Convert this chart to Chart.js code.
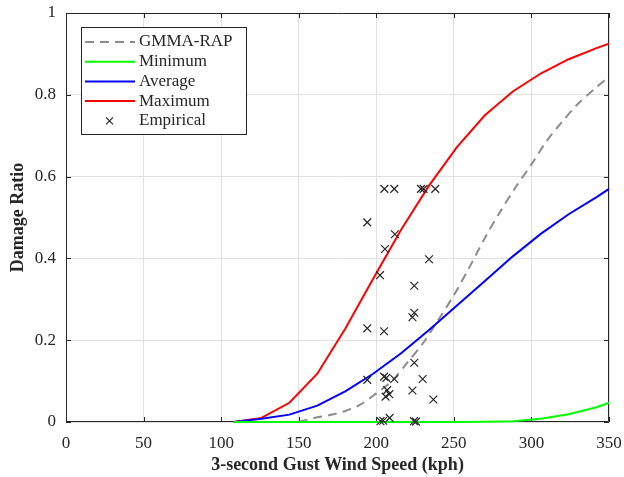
<!DOCTYPE html>
<html>
<head>
<meta charset="utf-8">
<script src="https://cdn.jsdelivr.net/npm/chart.js@4.4.1/dist/chart.umd.min.js"></script>
<style>
  html, body { margin: 0; padding: 0; background: #fff; }
  #wrap { width: 624px; height: 477px; }
</style>
</head>
<body>
<div id="wrap"><canvas id="damageChart"></canvas></div>
<script>
// Fragility curves
const curveSpeed = [108, 126, 144, 162, 180, 198, 216, 234, 252, 270, 288, 306, 324, 342, 350];
const minimumRatio = [0, 0, 0, 0, 0, 0, 0, 0, 0, 0.0005, 0.002, 0.008, 0.019, 0.036, 0.047];
const averageRatio = [0, 0.008, 0.018, 0.04, 0.075, 0.118, 0.168, 0.225, 0.285, 0.345, 0.405, 0.46, 0.508, 0.55, 0.57];
const maximumRatio = [0, 0.01, 0.047, 0.118, 0.228, 0.35, 0.47, 0.578, 0.672, 0.75, 0.808, 0.852, 0.887, 0.914, 0.925];

const gmmaSpeed = [150, 160, 170, 180, 190, 200, 210, 220, 230, 240, 250, 260, 270, 280, 290, 300, 310, 320, 330, 340, 350];
const gmmaRatio = [0, 0.01, 0.017, 0.027, 0.043, 0.07, 0.1, 0.145, 0.192, 0.25, 0.31, 0.378, 0.45, 0.515, 0.575, 0.63, 0.688, 0.735, 0.778, 0.812, 0.845];

// Empirical observations
const empiricalSpeed = [205.2, 211.6, 228.8, 230.5, 238, 194.2, 212, 205.6, 234, 202.4, 224.5,
  224.5, 223.3, 194.2, 205, 224.5, 194.2, 205, 206.5, 211.6, 229.9,
  223.3, 207, 206, 208.4, 236.8, 202.7, 204.5, 208.6, 224.3, 225.6];
const empiricalRatio = [0.57, 0.57, 0.57, 0.57, 0.57, 0.488, 0.459, 0.423, 0.398, 0.359, 0.333,
  0.267, 0.256, 0.229, 0.222, 0.145, 0.103, 0.111, 0.108, 0.105, 0.105,
  0.077, 0.078, 0.062, 0.068, 0.055, 0.002, 0.003, 0.01, 0.002, 0.001];

const xTicks = [0, 50, 100, 150, 200, 250, 300, 350];
const yTicks = [0, 0.2, 0.4, 0.6, 0.8, 1];

const toPoints = (xs, ys) => xs.map((x, i) => ({ x: x, y: ys[i] }));

const serif = 'Liberation Serif';
const axisColor = '#262626';

// Axes box with inward tick marks like MATLAB (drawn under the curves)
const axesBox = {
  id: 'axesBox',
  beforeDatasetsDraw(chart) {
    const { ctx, chartArea: a, scales } = chart;
    ctx.save();
    ctx.strokeStyle = axisColor;
    ctx.lineWidth = 1;
    ctx.beginPath();
    ctx.rect(a.left + 0.5, a.top + 0.5, a.right - a.left - 1, a.bottom - a.top - 1);
    xTicks.forEach(v => {
      const px = Math.round(scales.x.getPixelForValue(v)) + 0.5;
      ctx.moveTo(px, a.bottom); ctx.lineTo(px, a.bottom - 5);
      ctx.moveTo(px, a.top); ctx.lineTo(px, a.top + 5);
    });
    yTicks.forEach(v => {
      const py = Math.round(scales.y.getPixelForValue(v)) + 0.5;
      ctx.moveTo(a.left, py); ctx.lineTo(a.left + 5, py);
      ctx.moveTo(a.right, py); ctx.lineTo(a.right - 5, py);
    });
    ctx.stroke();
    ctx.restore();
  }
};

// Boxed legend in the upper left corner of the plot
const boxLegend = {
  id: 'boxLegend',
  afterDraw(chart) {
    const { ctx, chartArea: a } = chart;
    const left = a.left + 15, top = a.top + 14;
    const w = 165, h = 107;
    ctx.save();
    ctx.fillStyle = '#fff';
    ctx.fillRect(left, top, w, h);
    ctx.strokeStyle = axisColor;
    ctx.lineWidth = 1;
    ctx.strokeRect(left + 0.5, top + 0.5, w, h);
    ctx.font = '17px "' + serif + '"';
    ctx.textBaseline = 'middle';
    chart.data.datasets.forEach((ds, i) => {
      const y = top + 15 + i * 19.7;
      if (ds.showLine) {
        ctx.strokeStyle = ds.borderColor;
        ctx.lineWidth = ds.borderWidth;
        ctx.setLineDash(ds.borderDash || []);
        ctx.beginPath();
        ctx.moveTo(left + 4, y);
        ctx.lineTo(left + 54, y);
        ctx.stroke();
        ctx.setLineDash([]);
      } else {
        ctx.strokeStyle = ds.borderColor;
        ctx.lineWidth = 1.2;
        ctx.beginPath();
        ctx.moveTo(left + 25, y - 3.5); ctx.lineTo(left + 32, y + 3.5);
        ctx.moveTo(left + 25, y + 3.5); ctx.lineTo(left + 32, y - 3.5);
        ctx.stroke();
      }
      ctx.fillStyle = axisColor;
      ctx.fillText(ds.label, left + 58, y);
    });
    ctx.restore();
  }
};

const ctx = document.getElementById('damageChart').getContext('2d');
const damageChart = new Chart(ctx, {
  type: 'scatter',
  data: {
    datasets: [
      {
        label: 'GMMA-RAP',
        data: toPoints(gmmaSpeed, gmmaRatio),
        showLine: true,
        borderColor: '#8c8c8c',
        borderWidth: 2,
        borderDash: [9, 6],
        pointRadius: 0,
        tension: 0.3,
        clip: 4,
        order: 5
      },
      {
        label: 'Minimum',
        data: toPoints(curveSpeed, minimumRatio),
        showLine: true,
        borderColor: '#00ff00',
        borderWidth: 2,
        pointRadius: 0,
        clip: 4,
        order: 2
      },
      {
        label: 'Average',
        data: toPoints(curveSpeed, averageRatio),
        showLine: true,
        borderColor: '#0000ff',
        borderWidth: 2,
        pointRadius: 0,
        clip: 4,
        order: 3
      },
      {
        label: 'Maximum',
        data: toPoints(curveSpeed, maximumRatio),
        showLine: true,
        borderColor: '#ff0000',
        borderWidth: 2,
        pointRadius: 0,
        clip: 4,
        order: 4
      },
      {
        label: 'Empirical',
        data: toPoints(empiricalSpeed, empiricalRatio),
        showLine: false,
        borderColor: '#262626',
        backgroundColor: '#262626',
        borderWidth: 1.2,
        pointStyle: 'crossRot',
        pointRadius: 5.5,
        clip: 6,
        order: 1
      }
    ]
  },
  options: {
    responsive: true,
    maintainAspectRatio: false,
    animation: false,
    devicePixelRatio: 1,
    layout: { padding: { left: 0, right: 15, top: 13, bottom: 0 } },
    plugins: {
      legend: { display: false },
      tooltip: { enabled: false }
    },
    scales: {
      x: {
        type: 'linear',
        min: 0,
        max: 350,
        afterBuildTicks: s => { s.ticks = xTicks.map(v => ({ value: v })); },
        afterFit: s => { s.height = 55; s.paddingLeft = 0; s.paddingRight = 0; },
        grid: { color: '#e0e0e0', drawTicks: false },
        border: { display: false },
        ticks: {
          autoSkip: false,
          maxRotation: 0,
          padding: 11,
          color: axisColor,
          font: { family: serif, size: 17 }
        },
        title: {
          display: true,
          text: '3-second Gust Wind Speed (kph)',
          color: axisColor,
          font: { family: serif, size: 18, weight: 'bold' },
          padding: { top: 0, bottom: 1 }
        }
      },
      y: {
        type: 'linear',
        min: 0,
        max: 1,
        afterBuildTicks: s => { s.ticks = yTicks.map(v => ({ value: v })); },
        afterFit: s => { s.width = 66; s.paddingTop = 0; s.paddingBottom = 0; },
        grid: { color: '#e0e0e0', drawTicks: false },
        border: { display: false },
        ticks: {
          padding: 10,
          color: axisColor,
          font: { family: serif, size: 17 },
          callback: v => String(+v.toFixed(1))
        },
        title: {
          display: true,
          text: 'Damage Ratio',
          color: axisColor,
          font: { family: serif, size: 18, weight: 'bold' },
          padding: { top: 8, bottom: 0 }
        }
      }
    }
  },
  plugins: [axesBox, boxLegend]
});
</script>
</body>
</html>
